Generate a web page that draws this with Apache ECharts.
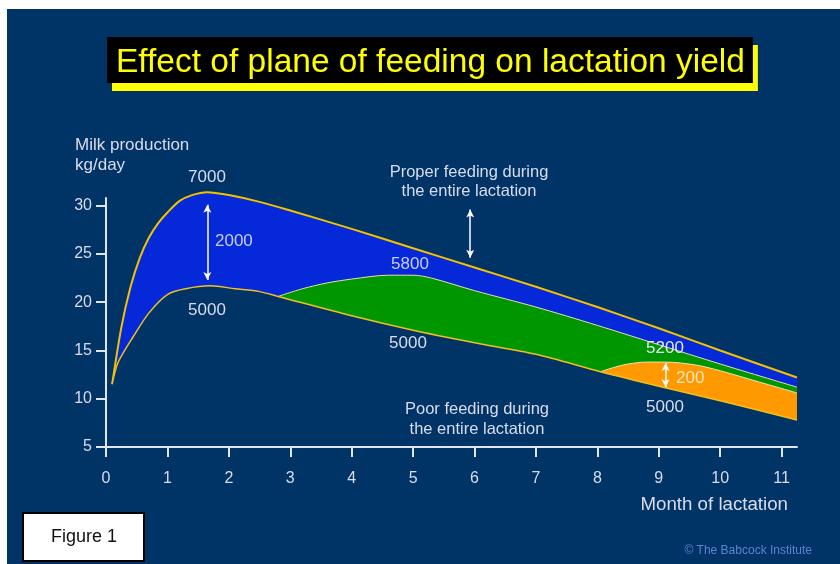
<!DOCTYPE html>
<html>
<head>
<meta charset="utf-8">
<script src="https://cdn.jsdelivr.net/npm/echarts@6/dist/echarts.min.js"></script>
<style>
  body { margin: 0; background: #fff; }
  #chart { width: 840px; height: 564px; }
</style>
</head>
<body>
<div id="chart"></div>
<script>
// proper feeding during the entire lactation (7000 kg)
var properMonths = [0.1, 0.25, 0.4, 0.55, 0.7, 0.85, 1.0, 1.2, 1.4, 1.65, 2.0, 2.5, 3.0, 4.0, 5.0, 6.0, 7.0, 8.0, 9.0, 10.0, 11.25];
var properYield  = [11.5, 17.4, 21.6, 24.6, 26.7, 28.2, 29.3, 30.5, 31.1, 31.4, 31.1, 30.4, 29.5, 27.6, 25.6, 23.6, 21.6, 19.5, 17.3, 15.0, 12.2];
// poor feeding during the entire lactation (5000 kg)
var poorMonths = [0.1, 0.2, 0.45, 0.7, 1.0, 1.3, 1.7, 2.1, 2.5, 2.8, 4.0, 5.0, 6.0, 7.0, 8.05, 9.0, 10.0, 11.25];
var poorYield  = [11.5, 13.8, 16.5, 18.9, 20.8, 21.4, 21.7, 21.4, 21.1, 20.6, 18.6, 17.1, 15.8, 14.6, 12.8, 11.3, 9.8, 7.8];
// better feeding from month 3 (5800 kg)
var fromThreeMonths = [2.8, 3.2, 3.6, 4.0, 4.6, 5.0, 5.3, 6.0, 7.0, 8.0, 9.0, 10.0, 11.25];
var fromThreeYield  = [20.6, 21.4, 22.0, 22.4, 22.8, 22.8, 22.5, 21.2, 19.5, 17.6, 15.6, 13.6, 11.2];
// better feeding from month 8 (5200 kg)
var fromEightMonths = [8.05, 8.3, 8.5, 8.8, 9.1, 9.6, 10.0, 10.6, 11.25];
var fromEightYield  = [12.8, 13.3, 13.6, 13.8, 13.8, 13.5, 12.9, 11.8, 10.6];

var monthTicks = [0, 1, 2, 3, 4, 5, 6, 7, 8, 9, 10, 11];
var yieldTicks = [5, 10, 15, 20, 25, 30];

// double arrows: [month, from, to]
var arrows = [
  [1.65, 30.1, 22.3],
  [5.93, 29.6, 24.6],
  [5.93, 15.8, 10.5],
  [9.11, 13.7, 11.2]
];

var BG = '#003366';
var TXT = '#d9dcec';

function pairs(xs, ys) {
  return xs.map(function (x, i) { return [x, ys[i]]; });
}

function areaSeries(data, fill, line, width, z) {
  return {
    type: 'line',
    data: data,
    symbol: 'none',
    smooth: 0.3,
    clip: false,
    z: z,
    silent: true,
    lineStyle: { color: line, width: width },
    areaStyle: { color: fill, opacity: 1, origin: 'start' }
  };
}

function txt(s, x, y, opts) {
  opts = opts || {};
  return {
    type: 'text',
    z: 50,
    style: {
      text: s,
      x: x,
      y: y,
      fill: opts.fill || TXT,
      fontSize: opts.size || 17,
      fontFamily: 'Liberation Sans',
      textAlign: opts.align || 'center',
      textVerticalAlign: 'middle'
    }
  };
}

var chart = echarts.init(document.getElementById('chart'));

var axisCommon = {
  type: 'value',
  z: 10,
  splitLine: { show: false },
  axisLine: { show: true, lineStyle: { color: '#e2e4ee', width: 2 } },
  axisTick: { show: true, length: 10, lineStyle: { color: '#e2e4ee', width: 2 } }
};

var option = {
  backgroundColor: '#fff',
  animation: false,
  title: {
    text: 'Effect of plane of feeding on lactation yield',
    left: 107,
    top: 37,
    padding: [8, 8, 2, 9],
    backgroundColor: '#000',
    shadowColor: '#ffff00',
    shadowBlur: 0,
    shadowOffsetX: 5,
    shadowOffsetY: 8,
    textStyle: {
      color: '#ffff00',
      fontSize: 33.5,
      lineHeight: 36,
      fontWeight: 'normal',
      fontFamily: 'Liberation Sans'
    }
  },
  grid: { left: 106, right: 43, top: 198, bottom: 117 },
  xAxis: Object.assign({}, axisCommon, {
    min: 0,
    max: 11.25,
    interval: 1,
    axisTick: Object.assign({}, axisCommon.axisTick, { customValues: monthTicks }),
    axisLabel: {
      customValues: monthTicks,
      margin: 24,
      color: TXT,
      fontSize: 16,
      fontFamily: 'Liberation Sans'
    }
  }),
  yAxis: Object.assign({}, axisCommon, {
    min: 5,
    max: 30.8,
    interval: 5,
    axisTick: Object.assign({}, axisCommon.axisTick, { customValues: yieldTicks }),
    axisLabel: {
      customValues: yieldTicks,
      margin: 14,
      color: TXT,
      fontSize: 16,
      fontFamily: 'Liberation Sans'
    }
  }),
  series: [
    areaSeries(pairs(properMonths, properYield), '#0529d8', '#f2c200', 2, 2),
    areaSeries(pairs(fromThreeMonths, fromThreeYield), '#009600', '#e6e2a0', 1, 3),
    areaSeries(pairs(fromEightMonths, fromEightYield), '#ff9900', '#f0e2b8', 1, 4),
    areaSeries(pairs(poorMonths, poorYield), BG, '#f0c020', 1.5, 5),
    {
      type: 'line',
      data: [],
      z: 20,
      silent: true,
      markLine: {
        silent: true,
        symbol: ['arrow', 'arrow'],
        symbolSize: [6, 8],
        label: { show: false },
        lineStyle: { color: '#ffffff', width: 1.5, type: 'solid' },
        emphasis: { disabled: true },
        data: arrows.map(function (a) {
          return [{ coord: [a[0], a[1]] }, { coord: [a[0], a[2]] }];
        })
      }
    }
  ],
  graphic: [
    { type: 'rect', z: -100, shape: { x: 7, y: 9, width: 833, height: 555 }, style: { fill: BG } },
    txt('Milk production', 75, 145, { align: 'left' }),
    txt('kg/day', 75, 165, { align: 'left' }),
    txt('Month of lactation', 788, 505, { align: 'right', size: 18.7 }),
    txt('7000', 207, 177),
    txt('2000', 215, 241, { align: 'left', fill: '#c8ceff' }),
    txt('5000', 207, 310),
    txt('Proper feeding during', 469, 172, { size: 16.5 }),
    txt('the entire lactation', 469, 191, { size: 16.5 }),
    txt('5800', 410, 264, { fill: '#c8ceff' }),
    txt('5000', 408, 343),
    txt('Poor feeding during', 477, 409, { size: 16.5 }),
    txt('the entire lactation', 477, 429, { size: 16.5 }),
    txt('5200', 665, 348, { fill: '#e6e8f2' }),
    txt('200', 676, 378, { align: 'left', fill: '#ffe6c0' }),
    txt('5000', 665, 407),
    {
      type: 'rect', z: 50,
      shape: { x: 23, y: 513, width: 121, height: 48 },
      style: { fill: '#fff', stroke: '#000', lineWidth: 2 }
    },
    txt('Figure 1', 84, 537, { fill: '#111', size: 18 }),
    txt('\u00a9 The Babcock Institute', 812, 551, { align: 'right', size: 12, fill: '#5c84d2' })
  ]
};

chart.setOption(option);
</script>
</body>
</html>
